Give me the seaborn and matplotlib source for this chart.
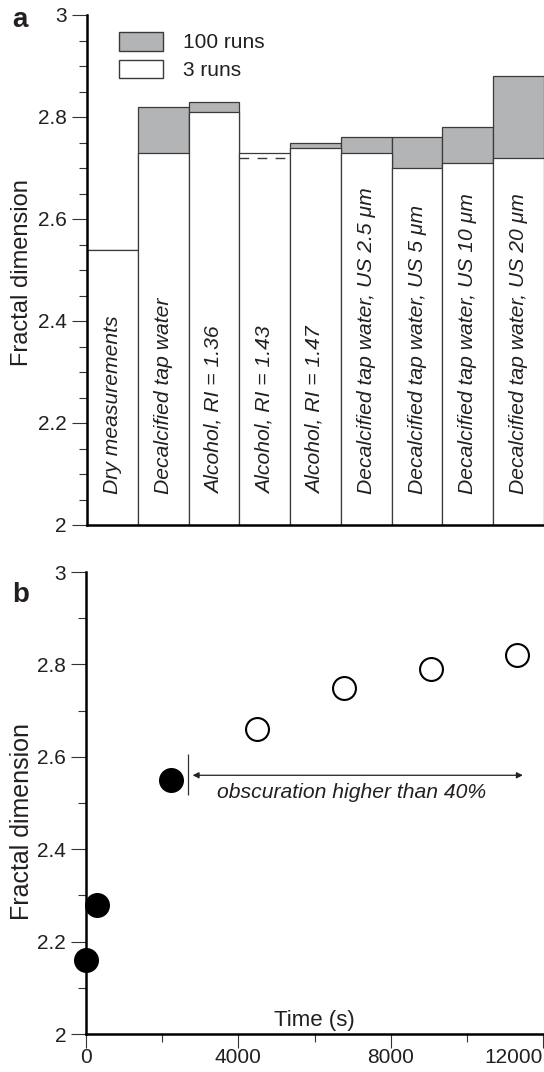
import matplotlib
matplotlib.use("Agg")
import matplotlib.pyplot as plt
from matplotlib.patches import Patch
from matplotlib.ticker import MultipleLocator, FuncFormatter
import seaborn as sns
import numpy as np

# ---- data -------------------------------------------------------------
conditions = [
    "Dry measurements",
    "Decalcified tap water",
    "Alcohol, RI = 1.36",
    "Alcohol, RI = 1.43",
    "Alcohol, RI = 1.47",
    "Decalcified tap water, US 2.5 \u03bcm",
    "Decalcified tap water, US 5 \u03bcm",
    "Decalcified tap water, US 10 \u03bcm",
    "Decalcified tap water, US 20 \u03bcm",
]
runs_3 = [2.54, 2.73, 2.81, 2.73, 2.74, 2.73, 2.70, 2.71, 2.72]
runs_100 = [2.54, 2.82, 2.83, 2.72, 2.75, 2.76, 2.76, 2.78, 2.88]

time_s = [0, 300, 2240, 4500, 6770, 9050, 11330]
fractal_dim = [2.16, 2.28, 2.55, 2.66, 2.75, 2.79, 2.82]
high_obscuration = [False, False, False, True, True, True, True]

# ---- style ------------------------------------------------------------
sns.set_style("ticks")
plt.rcParams["font.family"] = ["Liberation Sans", "DejaVu Sans"]
TXT = "#231f20"
GRAY = "#b3b4b6"
EDGE = "#3a3a3a"
plt.rcParams.update({
    "text.color": TXT,
    "axes.labelcolor": TXT,
    "xtick.color": "#333333",
    "ytick.color": "#333333",
    "xtick.labelcolor": TXT,
    "ytick.labelcolor": TXT,
    "axes.edgecolor": "black",
    "axes.linewidth": 1.8,
})

W, H = 544, 1072
fig = plt.figure(figsize=(W / 100, H / 100), dpi=100)
ax1 = fig.add_axes([87 / W, 1 - 525 / H, 457 / W, 510 / H])
ax2 = fig.add_axes([86 / W, 1 - 1034 / H, 457 / W, 462 / H])


def style_axis(ax, minor_y):
    for side in ("top", "right"):
        ax.spines[side].set_visible(False)
    ax.set_ylim(2, 3)
    ax.yaxis.set_major_locator(MultipleLocator(0.2))
    ax.yaxis.set_minor_locator(MultipleLocator(minor_y))
    ax.yaxis.set_major_formatter(FuncFormatter(lambda v, p: f"{v:g}"))
    ax.tick_params(axis="y", which="major", length=10.8, width=0.8,
                   labelsize=15, pad=3.6)
    ax.tick_params(axis="y", which="minor", length=5.8, width=0.8)


# ---- panel a: stacked run comparison ----------------------------------
sns.barplot(x=conditions, y=runs_100, order=conditions, color=GRAY,
            saturation=1, width=1, edgecolor=EDGE, linewidth=0.9, ax=ax1)
sns.barplot(x=conditions, y=runs_3, order=conditions, color="white",
            saturation=1, width=1, edgecolor=EDGE, linewidth=0.9, ax=ax1)

# 100-run value below the 3-run value: dashed marker inside the bar
for i, (r3, r100) in enumerate(zip(runs_3, runs_100)):
    if r100 < r3:
        ax1.hlines(r100, i - 0.5, i + 0.5, colors=EDGE, linewidth=1.0,
                   linestyles=(0, (7, 6)), zorder=5)

for i, name in enumerate(conditions):
    ax1.text(i, 2.06, name, rotation=90, ha="center", va="bottom",
             fontsize=15.2, style="italic", color=TXT, zorder=6)

style_axis(ax1, 0.05)
ax1.set_xlim(-0.5, len(conditions) - 0.5)
ax1.tick_params(axis="x", which="both", bottom=False, labelbottom=False)
ax1.set_xlabel("")
ax1.set_ylabel("Fractal dimension", fontsize=17, va="center")
ax1.yaxis.set_label_coords(-0.143, 0.495)

handles = [Patch(facecolor=GRAY, edgecolor=EDGE, linewidth=1.0, label="100 runs"),
           Patch(facecolor="white", edgecolor=EDGE, linewidth=1.0, label="3 runs")]
ax1.legend(handles=handles, loc="upper left",
           bbox_to_anchor=((119 - 87) / 457, (525 - 32) / 510),
           frameon=False, fontsize=15, handlelength=2.1, handleheight=1.0,
           labelspacing=0.35, handletextpad=0.95, borderpad=0,
           borderaxespad=0)

# ---- panel b: fractal dimension over time -----------------------------
t = np.array(time_s)
fd = np.array(fractal_dim)
hi = np.array(high_obscuration)
sns.scatterplot(x=t[~hi], y=fd[~hi], color="black", s=324, linewidth=0,
                clip_on=False, zorder=4, ax=ax2)
sns.scatterplot(x=t[hi], y=fd[hi], facecolor="white", edgecolor="black",
                s=272, linewidth=1.5, clip_on=False, zorder=4, ax=ax2)

style_axis(ax2, 0.1)
ax2.set_xlim(0, 12000)
ax2.set_xticks([0, 4000, 8000, 12000])
ax2.xaxis.set_minor_locator(MultipleLocator(2000))
ax2.tick_params(axis="x", which="major", length=10, width=0.8,
                labelsize=15, pad=0)
ax2.tick_params(axis="x", which="minor", length=5.8, width=0.8)
ax2.get_xticklabels()[-1].set_horizontalalignment("right")
ax2.set_ylabel("Fractal dimension", fontsize=18, va="center")
ax2.yaxis.set_label_coords(-0.141, 0.459)
ax2.set_xlabel("Time (s)", fontsize=16, va="center")
ax2.xaxis.set_label_coords(0.499, 0.030)

# obscuration range marker
ax2.vlines(2674, 2.518, 2.606, colors="#333333", linewidth=0.9)
ax2.annotate("", xy=(11470, 2.56), xytext=(2800, 2.56),
             arrowprops=dict(arrowstyle="<|-|>", color="#222222", lw=0.9,
                             mutation_scale=9, shrinkA=0, shrinkB=0))
ax2.text(6967, 2.522, "obscuration higher than 40%", ha="center",
         va="center", fontsize=15.2, style="italic", color=TXT)

# panel letters
fig.text(12 / W, 1 - 27 / H, "a", fontsize=20, fontweight="bold",
         va="baseline", ha="left", color=TXT)
fig.text(12 / W, 1 - 602 / H, "b", fontsize=20, fontweight="bold",
         va="baseline", ha="left", color=TXT)

fig.savefig("out.png", dpi=100)
